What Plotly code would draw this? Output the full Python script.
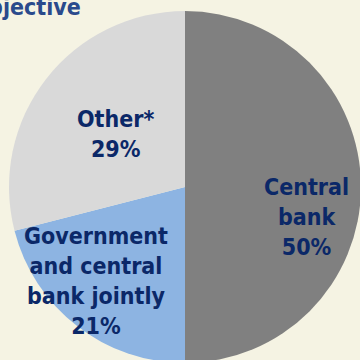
import plotly.graph_objects as go

# Who sets the inflation objective: share of countries
categories = ["Central bank", "Government and central bank jointly", "Other*"]
label_lines = ["Central<br>bank", "Government<br>and central<br>bank jointly", "Other*"]
shares = [50, 21, 29]
slice_colors = ["#808080", "#8db4e2", "#d9d9d9"]

BG = "#f5f3e3"
NAVY = "#0b2868"
FONT = "DejaVu Sans Condensed, DejaVu Sans, sans-serif"

W, H = 372, 372
ML, MR, MT, MB = 9, 11, 11, 9
PW, PH = W - ML - MR, H - MT - MB


def px_to_paper(x, y):
    return (x - ML) / PW, 1 - (y - MT) / PH


fig = go.Figure(
    go.Pie(
        labels=categories,
        values=shares,
        sort=False,
        direction="clockwise",
        rotation=0,
        marker=dict(colors=slice_colors, line=dict(width=0)),
        textinfo="none",
        hoverinfo="label+percent",
        showlegend=False,
    )
)

# slice labels, placed by hand inside each slice
label_pos = [(306, 217), (96, 281), (115, 134)]
annotations = []
for text, share, (x, y) in zip(label_lines, shares, label_pos):
    xp, yp = px_to_paper(x, y)
    annotations.append(
        dict(
            text=f"<b>{text}<br>{share}%</b>",
            x=xp, y=yp, xref="paper", yref="paper",
            xanchor="center", yanchor="middle",
            showarrow=False, align="center",
            font=dict(family=FONT, size=23, color=NAVY),
        )
    )

# chart title (runs off the left edge)
tx, ty = px_to_paper(83, -8)
annotations.append(
    dict(
        text="<b>Who sets the inflation objective</b>",
        x=tx, y=ty, xref="paper", yref="paper",
        xanchor="right", yanchor="top",
        showarrow=False,
        font=dict(family=FONT, size=23, color="#2a4a8c"),
    )
)

fig.update_layout(
    width=W, height=H,
    margin=dict(l=ML, r=MR, t=MT, b=MB),
    paper_bgcolor=BG, plot_bgcolor=BG,
    annotations=annotations,
)

fig.write_html(
    "out.html",
    post_script="document.documentElement.style.overflow='hidden';document.body.style.overflow='hidden';document.body.style.margin='0';",
)
